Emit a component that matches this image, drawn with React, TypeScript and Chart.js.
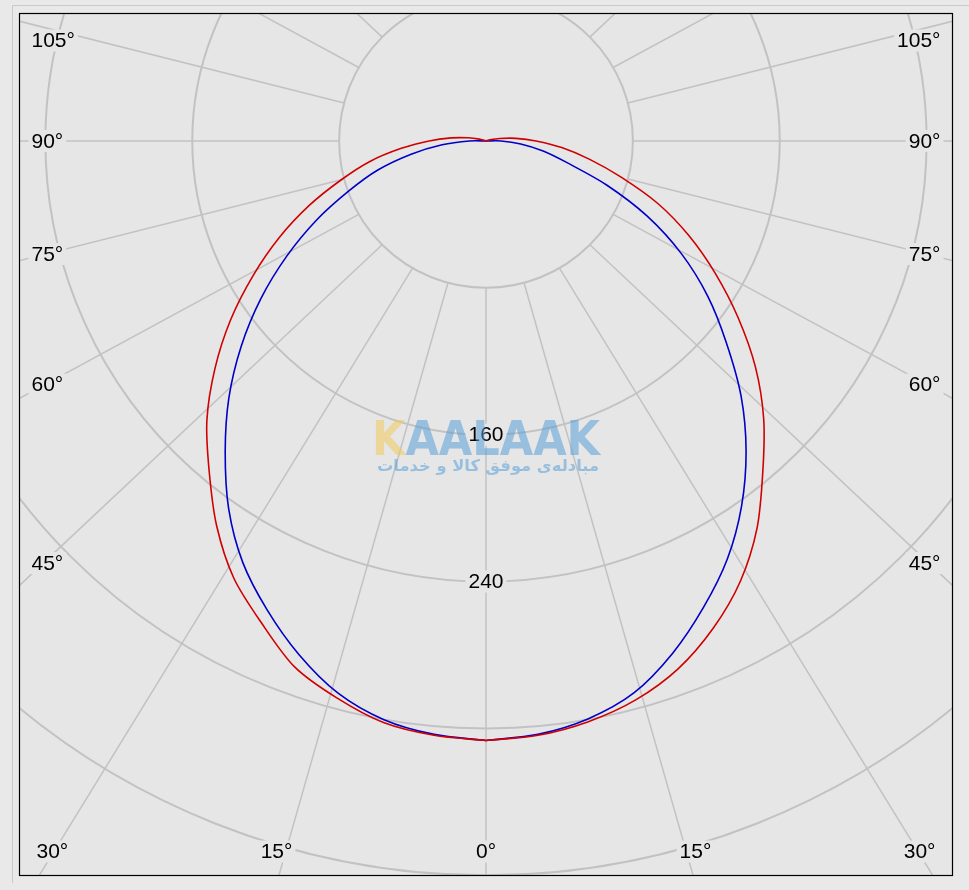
import React, { useEffect, useRef } from "react";
import { Chart, registerables } from "chart.js";

Chart.register(...registerables);

// gamma angles (degrees from nadir)
const GAMMA = [0, 5, 10, 15, 20, 25, 30, 35, 40, 45, 50, 55, 60, 65, 70, 75, 80, 85, 90, 95, 100, 105, 110];

// luminous intensity (cd) – red curve, left half / right half
const RED_LEFT = [326.5, 324.9, 321.6, 314, 304.8, 289.5, 274.8, 255.8, 234.6, 215, 192.7, 169.8, 146.4, 124.1, 102.3, 81.6, 64.2, 46.3, 31, 19, 9.8, 3.8, 0];
const RED_RIGHT = [326.5, 324.9, 321.1, 315.1, 305.9, 292.8, 277, 257.4, 234.6, 213.9, 191.6, 167.6, 144.2, 121.9, 99.6, 76.2, 57.1, 41.4, 27.2, 16.3, 7.6, 2.2, 0];

// blue curve, left half / right half
const BLUE_LEFT = [326.5, 324.4, 320, 311.3, 297.7, 281.9, 265, 244.4, 221, 198.1, 174.1, 149.7, 125.2, 101.8, 79.5, 61, 41.4, 24, 9, 0, 0, 0, 0];
const BLUE_RIGHT = [326.5, 324.4, 319.6, 311.2, 297, 280.3, 262.9, 242.7, 220.4, 196.5, 170.9, 147.5, 123, 96.9, 69.7, 45.7, 31.6, 19, 8.2, 0, 0, 0, 0];

// polar grid
const RING_VALUES = [80, 160, 240, 320, 400];
const RING_LABELS = ["160", "240"];
const RAY_STEP = 15;
const SIDE_ANGLE_LABELS = [45, 60, 75, 90, 105];
const BOTTOM_ANGLE_LABELS = [0, 15, 30];

// watermark
const WATERMARK_WORD = "KAALAAK";
const WATERMARK_SUB = "مبادله‌ی موفق کالا و خدمات";

const X_MIN = -254.1;
const X_MAX = 254.1;
const Y_MIN = -400;
const Y_MAX = 69.4;

const PAGE_BG = "#e9e9e9";
const PLOT_BG = "#e6e6e6";
const GRID = "#c2c2c2";
const RAY_K = 1.06;
const LABEL_FONT = '21px "Liberation Sans", Arial, sans-serif';

function halfCurve(values: number[], sign: number) {
  return GAMMA.map((g, i) => {
    const t = (g * Math.PI) / 180;
    return { x: sign * values[i] * Math.sin(t), y: -values[i] * Math.cos(t) };
  });
}

function curve(left: number[], right: number[]) {
  return [...halfCurve(left, -1).reverse(), ...halfCurve(right, 1)];
}

function boxedText(ctx: CanvasRenderingContext2D, text: string, x: number, y: number, align: CanvasTextAlign) {
  ctx.font = LABEL_FONT;
  ctx.textAlign = align;
  ctx.textBaseline = "middle";
  const w = ctx.measureText(text).width;
  let x0 = x;
  if (align === "center") x0 = x - w / 2;
  if (align === "right") x0 = x - w;
  ctx.fillStyle = PLOT_BG;
  ctx.fillRect(x0 - 3, y - 11, w + 6, 22);
  ctx.fillStyle = "#000";
  ctx.fillText(text, x, y + 1);
}

const polarPlugin = {
  id: "polarGrid",
  beforeDraw(chart: any) {
    const { ctx, chartArea } = chart;
    const { left, top, right, bottom } = chartArea;
    ctx.save();
    ctx.fillStyle = PAGE_BG;
    ctx.fillRect(0, 0, chart.width, chart.height);
    ctx.strokeStyle = "#c9c9c9";
    ctx.lineWidth = 1;
    ctx.beginPath();
    ctx.moveTo(12.5, 883);
    ctx.lineTo(12.5, 5.5);
    ctx.lineTo(chart.width, 5.5);
    ctx.stroke();
    ctx.fillStyle = PLOT_BG;
    ctx.fillRect(left, top, right - left, bottom - top);
    ctx.restore();
  },
  beforeDatasetsDraw(chart: any) {
    const { ctx, chartArea, scales } = chart;
    const { left, top, right, bottom } = chartArea;
    const cx = scales.x.getPixelForValue(0);
    const cy = scales.y.getPixelForValue(0);
    const ppu = scales.x.getPixelForValue(1) - cx;

    ctx.save();
    ctx.beginPath();
    ctx.rect(left, top, right - left, bottom - top);
    ctx.clip();

    // rings
    ctx.strokeStyle = GRID;
    ctx.lineWidth = 2;
    RING_VALUES.forEach((r) => {
      ctx.beginPath();
      ctx.arc(cx, cy, r * ppu, 0, Math.PI * 2);
      ctx.stroke();
    });

    // rays from the innermost ring outwards
    ctx.lineWidth = 1.5;
    const inner = RING_VALUES[0] * ppu;
    for (let a = 0; a < 360; a += RAY_STEP) {
      const t = (a * Math.PI) / 180;
      const s = Math.sin(t);
      const c = Math.cos(t);
      ctx.beginPath();
      ctx.moveTo(cx + inner * s, cy + inner * c);
      ctx.lineTo(cx + 2000 * RAY_K * s, cy + 2000 * c);
      ctx.stroke();
    }

    // ring labels
    RING_LABELS.forEach((lab) => {
      const v = Number(lab);
      boxedText(ctx, lab, cx, cy + v * ppu, "center");
    });

    // side angle labels
    SIDE_ANGLE_LABELS.forEach((a) => {
      const t = (a * Math.PI) / 180;
      const dxTarget = cx - left - 27.5;
      const s = dxTarget / (1.04 * Math.sin(t));
      let y = cy + s * Math.cos(t);
      y = Math.max(top + 27, Math.min(bottom - 24, y));
      boxedText(ctx, a + "°", left + 12, y, "left");
      boxedText(ctx, a + "°", right - 12, y, "right");
    });

    // bottom angle labels
    ctx.font = LABEL_FONT;
    BOTTOM_ANGLE_LABELS.forEach((a) => {
      const t = (a * Math.PI) / 180;
      const y = bottom - 24;
      const w = ctx.measureText(a + "°").width;
      const off = (y - cy) * Math.tan(t) * 1.1;
      const minX = left + 17 + w / 2;
      const lx = Math.max(minX, cx - off);
      const rx = Math.min(right - 17 - w / 2, cx + off);
      boxedText(ctx, a + "°", lx, y, "center");
      if (a !== 0) boxedText(ctx, a + "°", rx, y, "center");
    });

    // watermark
    ctx.globalAlpha = 0.55;
    ctx.font = 'bold 48px "DejaVu Sans", sans-serif';
    ctx.textAlign = "left";
    ctx.textBaseline = "alphabetic";
    const ww = ctx.measureText(WATERMARK_WORD).width;
    const w0 = ctx.measureText(WATERMARK_WORD[0]).width;
    ctx.save();
    ctx.translate(cx - 114, cy + 314);
    ctx.scale(228 / ww, 1);
    ctx.fillStyle = "#f0c85a";
    ctx.fillText(WATERMARK_WORD[0], 0, 0);
    ctx.fillStyle = "#5a9fd8";
    ctx.fillText(WATERMARK_WORD.slice(1), w0, 0);
    ctx.restore();
    ctx.font = 'bold 16px "DejaVu Sans", sans-serif';
    ctx.textAlign = "center";
    const sw = ctx.measureText(WATERMARK_SUB).width;
    ctx.save();
    ctx.translate(cx + 2, cy + 330);
    ctx.scale(222 / sw, 1);
    ctx.fillStyle = "#5a9fd8";
    ctx.fillText(WATERMARK_SUB, 0, 0);
    ctx.restore();
    ctx.globalAlpha = 1;

    ctx.restore();
  },
  afterDraw(chart: any) {
    const { ctx, chartArea } = chart;
    const { left, top, right, bottom } = chartArea;
    ctx.save();
    ctx.strokeStyle = "#000";
    ctx.lineWidth = 1.2;
    ctx.strokeRect(left, top, right - left, bottom - top);
    ctx.restore();
  },
};

export default function App() {
  const ref = useRef<HTMLCanvasElement | null>(null);

  useEffect(() => {
    if (!ref.current) return;
    const chart = new Chart(ref.current, {
      type: "scatter",
      data: {
        datasets: [
          {
            data: curve(RED_LEFT, RED_RIGHT),
            showLine: true,
            borderColor: "#d00000",
            borderWidth: 1.6,
            pointRadius: 0,
            tension: 0.3,
          },
          {
            data: curve(BLUE_LEFT, BLUE_RIGHT),
            showLine: true,
            borderColor: "#0000c8",
            borderWidth: 1.6,
            pointRadius: 0,
            tension: 0.3,
          },
        ],
      },
      options: {
        responsive: false,
        animation: false,
        events: [],
        layout: { padding: { left: 19.5, top: 13.5, right: 16.5, bottom: 14.5 } },
        plugins: { legend: { display: false }, tooltip: { enabled: false } },
        scales: {
          x: { type: "linear", min: X_MIN, max: X_MAX, display: false },
          y: { type: "linear", min: Y_MIN, max: Y_MAX, display: false },
        },
      },
      plugins: [polarPlugin],
    });
    return () => chart.destroy();
  }, []);

  return (
    <div style={{ position: "absolute", left: 0, top: 0, width: 969, height: 890 }}>
      <canvas ref={ref} width={969} height={890} style={{ width: 969, height: 890, display: "block" }} />
    </div>
  );
}
